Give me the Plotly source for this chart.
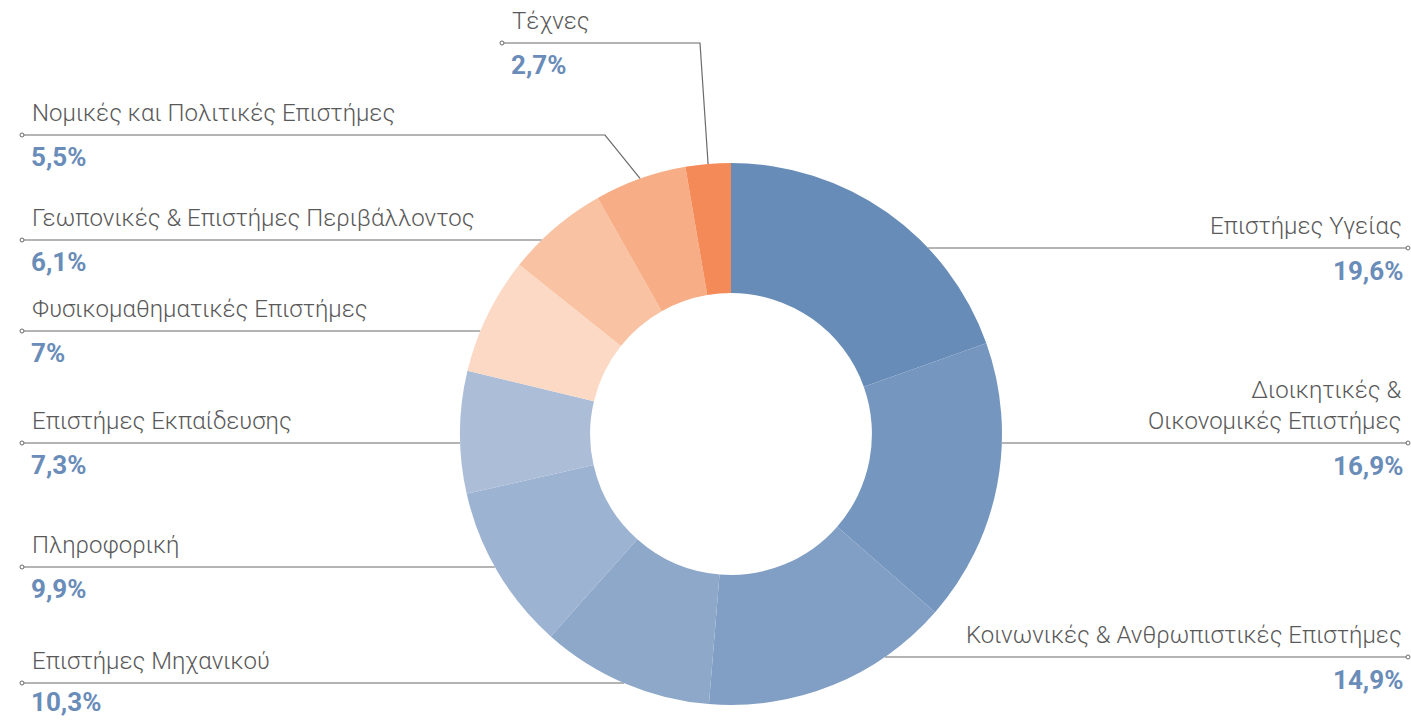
import math
import plotly.graph_objects as go

# ---- data ----
categories = [
    "Επιστήμες Υγείας",
    "Διοικητικές &<br>Οικονομικές Επιστήμες",
    "Κοινωνικές & Ανθρωπιστικές Επιστήμες",
    "Επιστήμες Μηχανικού",
    "Πληροφορική",
    "Επιστήμες Εκπαίδευσης",
    "Φυσικομαθηματικές Επιστήμες",
    "Γεωπονικές & Επιστήμες Περιβάλλοντος",
    "Νομικές και Πολιτικές Επιστήμες",
    "Τέχνες",
]
values = [19.6, 16.9, 14.9, 10.3, 9.9, 7.3, 7.0, 6.1, 5.5, 2.7]
colors = ["#688cb8", "#7596bf", "#819fc5", "#8ea8ca", "#9db3d2", "#acbdd8",
          "#fcd9c4", "#f9c3a3", "#f7ad85", "#f48a58"]

pct_labels = [f"{v:g}".replace(".", ",") + "%" for v in values]

# ---- layout (pixel space) ----
W, H = 1411, 722
CX, CY, R = 731, 434, 271
HOLE = 0.52

# side, line y, label-end x, elbow x (None = straight line to ring), pct gap
label_layout = [
    ("right", 248, 1408, None, 7),
    ("right", 443, 1408, None, 7),
    ("right", 657, 1408, None, 7),
    ("left", 683, 22, None, 3),
    ("left", 567, 22, None, 6),
    ("left", 443, 22, None, 6),
    ("left", 331, 22, None, 6),
    ("left", 240, 22, None, 6),
    ("left", 135, 22, 605, 6),
    ("left", 43, 502, 700, 6),
]

fig = go.Figure()

fig.add_trace(go.Pie(
    labels=categories, values=values, sort=False, direction="clockwise",
    rotation=0, hole=HOLE, textinfo="none", hoverinfo="label+percent",
    marker=dict(colors=colors, line=dict(color="white", width=0)),
    showlegend=False,
    domain=dict(x=[(CX - R) / W, (CX + R) / W], y=[(H - (CY + R)) / H, (H - (CY - R)) / H]),
))

total = sum(values)
cum = 0.0
line_color = "#6b6b6b"
dot_x, dot_y = [], []
for cat, v, pct, (side, ly, lx, elbow, gap) in zip(categories, values, pct_labels, label_layout):
    mid = (cum + v / 2) / total * 2 * math.pi
    cum += v
    if elbow is None:
        dy = ly - CY
        dx = math.sqrt(max(R * R - dy * dy, 0))
        ex = CX + dx if side == "right" else CX - dx
        xs, ys = [lx, ex], [ly, ly]
    else:
        px = CX + R * math.sin(mid)
        py = CY - R * math.cos(mid)
        xs, ys = [lx, elbow, px], [ly, ly, py]
    fig.add_trace(go.Scatter(x=xs, y=ys, mode="lines", line=dict(color=line_color, width=1.2),
                             hoverinfo="skip", showlegend=False))
    dot_x.append(lx)
    dot_y.append(ly)

    tx = lx + (8 if side == "left" else -4)
    anchor = "left" if side == "left" else "right"
    fig.add_annotation(x=tx, y=ly - 6, text=cat, showarrow=False, xanchor=anchor, yanchor="bottom",
                       align=anchor, font=dict(family="Roboto", size=24, color="#595959", weight=300),
                       xref="x", yref="y")
    fig.add_annotation(x=tx, y=ly + gap, text=pct, showarrow=False, xanchor=anchor, yanchor="top",
                       borderpad=0,
                       font=dict(family="Roboto", size=26, color="#6a8cb8", weight=700),
                       xref="x", yref="y")

fig.add_trace(go.Scatter(x=dot_x, y=dot_y, mode="markers",
                         marker=dict(size=4, color="white", line=dict(color=line_color, width=1)),
                         hoverinfo="skip", showlegend=False))

fig.update_layout(
    width=W, height=H, margin=dict(l=0, r=0, t=0, b=0),
    paper_bgcolor="white", plot_bgcolor="rgba(0,0,0,0)",
    xaxis=dict(range=[0, W], visible=False, fixedrange=True, domain=[0, 1]),
    yaxis=dict(range=[H, 0], visible=False, fixedrange=True, domain=[0, 1]),
)

fig.write_html("out.html", config={"displayModeBar": False},
               post_script="document.body.style.margin='0';document.body.style.overflow='hidden';")
